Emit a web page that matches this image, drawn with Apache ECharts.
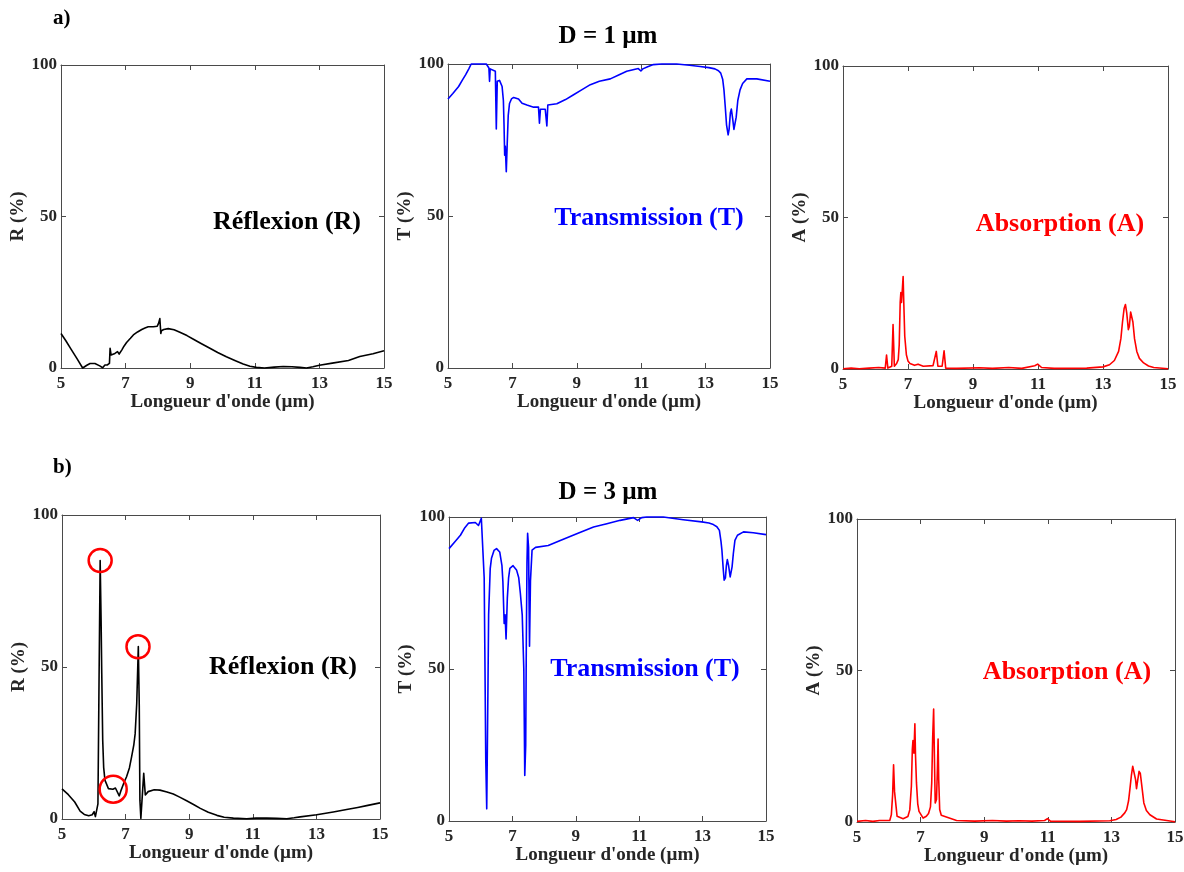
<!DOCTYPE html>
<html><head><meta charset="utf-8">
<script src="https://cdn.jsdelivr.net/npm/echarts@6/dist/echarts.min.js"></script>
<style>html,body{margin:0;padding:0;background:#fff}#c{width:1184px;height:872px}</style>
</head><body><div id="c"></div>
<script>
// ---- data ----
const xTicks = [5, 7, 9, 11, 13, 15];
const yTicks = [0, 50, 100];
const xName = "Longueur d'onde (µm)";
const yNames = ['R (%)', 'T (%)', 'A (%)'];
const curveNames = ['Réflexion (R)', 'Transmission (T)', 'Absorption (A)'];
const rowTitles = ['D = 1 µm', 'D = 3 µm'];
const rowTags = ['a)', 'b)'];

const reflD1 = [[5,11.4],[5.15,9],[5.3,6.4],[5.5,3],[5.67,0],[5.8,0.9],[5.9,1.5],[6.05,1.5],[6.2,0.7],[6.29,0.1],[6.36,1],[6.43,1],[6.5,1.5],[6.52,6.5],[6.55,4.3],[6.67,4.8],[6.75,5.4],[6.8,4.6],[6.88,5.9],[6.95,7.2],[7.03,8.4],[7.15,9.8],[7.24,10.9],[7.37,11.9],[7.5,12.7],[7.6,13.2],[7.7,13.6],[7.86,13.6],[7.9,14.2],[7.98,13.8],[8.02,14.7],[8.06,16.3],[8.09,11.4],[8.11,12.3],[8.18,12.7],[8.32,13],[8.5,12.6],[8.68,11.8],[8.9,10.7],[9.1,9.5],[9.35,8.0],[9.61,6.5],[9.85,5.1],[10.12,3.7],[10.4,2.4],[10.64,1.3],[10.85,0.6],[11.05,0.2],[11.3,0],[11.6,0.3],[11.88,0.5],[12.15,0.4],[12.4,0.2],[12.6,0],[12.8,0.4],[13,0.9],[13.4,1.6],[13.9,2.5],[14.25,3.8],[14.66,4.7],[15,5.7]];
const transD1 = [[5,88.5],[5.15,90.3],[5.33,92.6],[5.45,94.8],[5.55,96.5],[5.65,98.5],[5.72,100],[6.19,100],[6.27,98.7],[6.29,94.3],[6.31,98.4],[6.47,97.6],[6.5,78.6],[6.53,94.3],[6.6,94.6],[6.65,94],[6.68,92.6],[6.72,88],[6.74,80],[6.76,70],[6.78,72.9],[6.81,64.6],[6.84,74],[6.87,83],[6.91,87],[6.97,88.5],[7.04,89],[7.19,88.5],[7.3,87.1],[7.45,86.5],[7.66,85.8],[7.81,85.8],[7.84,80.5],[7.87,85.1],[8.02,85.1],[8.07,79.6],[8.1,86.5],[8.38,86.9],[8.65,88.3],[8.9,89.9],[9.15,91.5],[9.42,93.2],[9.7,94.3],[10.04,95.1],[10.3,96.4],[10.55,97.6],[10.91,98.5],[10.99,97.7],[11.05,98.4],[11.2,99.1],[11.38,99.8],[11.64,100],[12.1,100],[12.5,99.6],[12.83,99.2],[13.1,98.8],[13.29,98.4],[13.4,97.8],[13.47,97],[13.53,95],[13.57,91.5],[13.61,86],[13.65,80],[13.7,76.7],[13.73,78.5],[13.77,84],[13.8,85.2],[13.84,82],[13.88,78.5],[13.91,78.8],[13.95,82.5],[14,88],[14.07,91.5],[14.15,93.6],[14.28,95.1],[14.59,95.1],[15,94.3]];
const absD1 = [[5,0.1],[5.25,0.3],[5.5,0.1],[5.8,0.3],[6.1,0.5],[6.3,0.3],[6.34,4.6],[6.38,0.3],[6.5,0.9],[6.54,14.7],[6.58,0.9],[6.65,1.8],[6.7,3.1],[6.73,8],[6.76,22],[6.78,25.2],[6.8,22],[6.83,27],[6.85,30.5],[6.87,22],[6.9,10.8],[6.95,4.7],[7.0,2.6],[7.06,1.8],[7.2,1.2],[7.31,1.6],[7.47,0.9],[7.77,1.1],[7.87,5.8],[7.92,0.9],[8.05,0.9],[8.11,6],[8.16,0.3],[8.5,0.2],[9.2,0.4],[9.6,0.2],[10.1,0.5],[10.5,0.2],[10.9,1.1],[10.99,1.6],[11.11,0.5],[11.5,0.2],[12.5,0.3],[13.0,0.7],[13.2,1.4],[13.35,2.8],[13.48,5.8],[13.55,10],[13.6,15.5],[13.65,20],[13.69,21.3],[13.73,18.5],[13.78,13],[13.81,14],[13.85,18.8],[13.88,19.2],[13.92,15.5],[13.97,10],[14.04,5.8],[14.12,3.5],[14.25,2],[14.4,1],[14.56,0.5],[15,0.1]];
const reflD3 = [[5,9.9],[5.2,8],[5.4,5.6],[5.57,2.6],[5.7,1.5],[5.84,1.1],[5.95,1.4],[6.01,2.4],[6.05,0.8],[6.1,0.6],[6.13,5],[6.16,40],[6.2,85],[6.23,65],[6.25,48],[6.28,26],[6.31,17],[6.35,12.8],[6.46,10],[6.6,9.8],[6.68,10.2],[6.72,9.6],[6.8,7.6],[6.86,9.5],[6.95,12],[7.03,13.9],[7.12,16.8],[7.19,20.5],[7.26,24.5],[7.3,28],[7.35,38],[7.4,56.7],[7.43,37],[7.45,6.2],[7.48,0.2],[7.53,0.5],[7.57,15],[7.62,7.9],[7.71,9],[7.9,9.6],[8.08,9.5],[8.3,8.9],[8.5,8.2],[8.7,7.2],[8.92,6],[9.15,4.7],[9.35,3.5],[9.6,2.2],[9.87,1.2],[10.1,0.6],[10.39,0.3],[10.81,0.1],[11.1,0.3],[11.44,0.3],[11.75,0.2],[12.07,0.1],[12.3,0.4],[12.49,0.7],[13.01,1.4],[13.53,2.3],[13.95,3.1],[14.3,3.8],[14.58,4.4],[15,5.3]];
const transD3 = [[5,89.6],[5.2,92],[5.36,94],[5.5,96.5],[5.62,98],[5.83,98.2],[5.93,97.2],[5.97,96.8],[6.02,99.6],[6.08,99.8],[6.11,80],[6.13,56.8],[6.16,20],[6.19,4],[6.21,23.9],[6.23,45],[6.25,67.8],[6.3,83],[6.34,86.4],[6.42,89],[6.5,89.6],[6.6,88.5],[6.67,84],[6.7,78.7],[6.74,65],[6.77,67.8],[6.8,59.9],[6.84,73.3],[6.88,80],[6.92,83.1],[7.02,84],[7.13,82.6],[7.2,80],[7.25,75],[7.31,67.8],[7.36,50],[7.39,15],[7.42,25],[7.44,60],[7.46,85],[7.48,94.6],[7.51,90],[7.54,57.5],[7.57,79],[7.62,89.1],[7.73,90],[8.13,90.6],[8.51,92.3],[9.03,94.5],[9.56,96.7],[9.98,97.8],[10.4,98.9],[10.82,99.8],[10.95,98.9],[11.08,99.8],[11.24,100],[11.76,100],[12.39,99.1],[12.97,98.4],[13.2,98],[13.34,97.5],[13.45,96.8],[13.53,95.6],[13.58,92],[13.61,89],[13.65,83],[13.68,79.2],[13.72,80],[13.75,84],[13.78,86],[13.82,84],[13.87,80.3],[13.9,80.5],[13.93,83.6],[13.97,88],[14.02,92.3],[14.1,94],[14.29,95.1],[14.6,94.8],[15,94.2]];
const absD3 = [[5,0.2],[5.27,0.5],[5.5,0.2],[5.71,0.5],[6.03,0.5],[6.08,2.4],[6.12,9],[6.15,18.9],[6.18,10.1],[6.21,9.6],[6.23,5],[6.26,1.9],[6.45,1.1],[6.6,1.8],[6.66,4],[6.71,11.8],[6.74,24],[6.76,26.9],[6.79,22.7],[6.82,32.4],[6.84,22],[6.87,12.9],[6.91,6],[6.95,3.5],[7.08,1.3],[7.18,1.9],[7.25,2.8],[7.31,5],[7.35,12.9],[7.38,28],[7.41,37.3],[7.44,18],[7.46,6.3],[7.5,7.4],[7.53,18],[7.55,27.4],[7.57,14],[7.6,4.1],[7.65,2.2],[7.71,1.6],[8.13,0.5],[8.7,0.3],[9.26,0.5],[9.7,0.3],[10.1,0.4],[10.5,0.3],[10.9,0.5],[10.99,1.1],[11.08,0.3],[12,0.2],[12.95,0.4],[13.15,0.8],[13.3,1.6],[13.42,3],[13.48,4.1],[13.54,7],[13.58,10.7],[13.63,15.5],[13.67,18.4],[13.72,18.4],[13.76,14],[13.79,11],[13.83,14],[13.87,16.7],[13.91,16],[13.95,12.5],[14.02,6.3],[14.1,3.8],[14.21,2.4],[14.42,1],[15,0.1]];
// highlighted points (red circles) on the D = 3 µm reflection curve
const circlePts = [[6.2,85],[7.39,56.7],[6.61,9.8]];

// ---- layout / style ----
const circleSizes = [23, 23, 27];
const FONT = "'Liberation Serif','Times New Roman',serif";
const TXT = '#262626';
const AX = '#4a4a4a';
const panelColors = ['#000000', '#0000ff', '#ff0000'];
const grids = [
  {left:61, top:65, width:323, height:303},
  {left:448, top:64, width:322, height:304},
  {left:843, top:66, width:325, height:303},
  {left:62, top:515, width:318, height:304},
  {left:449, top:517, width:317, height:304},
  {left:857, top:519, width:318, height:303}
];
const yGaps = [39, 39, 38, 40, 40, 38];
const panelData = [reflD1, transD1, absD1, reflD3, transD3, absD3];
const labelPos = [[287,222],[649,218],[1060,224],[283,667],[645,669],[1067,672]];

const xAxes = [], yAxes = [], series = [];
grids.forEach((g, i) => {
  const k = i % 3;
  const tickStyle = {color: AX, width: 1};
  xAxes.push({gridIndex:i, type:'value', min:5, max:15, interval:1, position:'bottom',
    axisLine:{show:true, onZero:false, lineStyle:tickStyle},
    axisTick:{show:true, inside:true, length:5, customValues:xTicks, lineStyle:tickStyle},
    axisLabel:{customValues:xTicks, margin:7, color:TXT, fontSize:17, fontWeight:'bold', fontFamily:FONT},
    splitLine:{show:false},
    name:xName, nameLocation:'middle', nameGap:23,
    nameTextStyle:{color:TXT, fontSize:19, fontWeight:'bold', fontFamily:FONT, verticalAlign:'top'}});
  xAxes.push({gridIndex:i, type:'value', min:5, max:15, interval:1, position:'top',
    axisLine:{show:true, onZero:false, lineStyle:tickStyle},
    axisTick:{show:true, inside:true, length:5, customValues:xTicks, lineStyle:tickStyle},
    axisLabel:{show:false}, splitLine:{show:false}});
  yAxes.push({gridIndex:i, type:'value', min:0, max:100, interval:50, position:'left',
    axisLine:{show:true, onZero:false, lineStyle:tickStyle},
    axisTick:{show:true, inside:true, length:5, lineStyle:tickStyle},
    axisLabel:{margin:4, color:TXT, fontSize:17, fontWeight:'bold', fontFamily:FONT},
    splitLine:{show:false},
    name:yNames[k], nameLocation:'middle', nameGap:yGaps[i], nameRotate:90,
    nameTextStyle:{color:TXT, fontSize:19, fontWeight:'bold', fontFamily:FONT, verticalAlign:'middle'}});
  yAxes.push({gridIndex:i, type:'value', min:0, max:100, interval:50, position:'right',
    axisLine:{show:true, onZero:false, lineStyle:tickStyle},
    axisTick:{show:true, inside:true, length:5, lineStyle:tickStyle},
    axisLabel:{show:false}, splitLine:{show:false}});
  series.push({type:'line', xAxisIndex:2*i, yAxisIndex:2*i, data:panelData[i],
    showSymbol:false, symbol:'none', smooth:false, clip:false, silent:true, animation:false,
    lineStyle:{color:panelColors[k], width:1.6, join:'round'}, z:3});
});
series.push({type:'scatter', xAxisIndex:6, yAxisIndex:6, animation:false, silent:true,
  data:circlePts, symbol:'circle',
  symbolSize:(v, p) => circleSizes[p.dataIndex],
  itemStyle:{color:'rgba(0,0,0,0)', borderColor:'#ff0000', borderWidth:2.5, opacity:1}, z:5});

const graphics = [];
labelPos.forEach((p, i) => {
  graphics.push({type:'text', x:p[0], y:p[1], silent:true, z:10,
    style:{text:curveNames[i%3], fill:panelColors[i%3], font:`bold 26px ${FONT}`, textAlign:'center', textVerticalAlign:'middle'}});
});
graphics.push({type:'text', x:608, y:37, style:{text:rowTitles[0], fill:'#000', font:`bold 25px ${FONT}`, textAlign:'center', textVerticalAlign:'middle'}});
graphics.push({type:'text', x:608, y:493, style:{text:rowTitles[1], fill:'#000', font:`bold 25px ${FONT}`, textAlign:'center', textVerticalAlign:'middle'}});
graphics.push({type:'text', x:53, y:19, style:{text:rowTags[0], fill:'#000', font:`bold 21px ${FONT}`, textAlign:'left', textVerticalAlign:'middle'}});
graphics.push({type:'text', x:53, y:468, style:{text:rowTags[1], fill:'#000', font:`bold 21px ${FONT}`, textAlign:'left', textVerticalAlign:'middle'}});

const chart = echarts.init(document.getElementById('c'), null, {renderer:'canvas'});
chart.setOption({
  animation:false,
  backgroundColor:'#ffffff',
  grid: grids.map(g => Object.assign({containLabel:false, outerBoundsMode:'none'}, g)),
  xAxis: xAxes, yAxis: yAxes, series: series, graphic: graphics
});
</script></body></html>
